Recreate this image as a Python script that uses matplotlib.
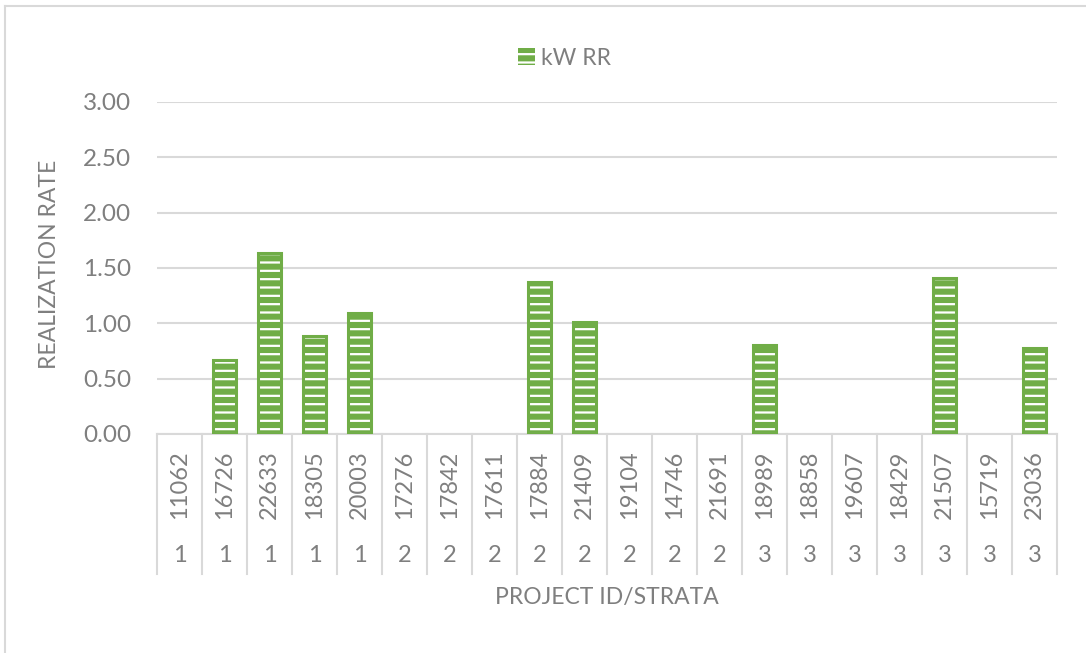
import numpy as np
import matplotlib.pyplot as plt
from matplotlib.lines import Line2D
from matplotlib.transforms import blended_transform_factory

# kW realization rate per project
project_ids = ['11062', '16726', '22633', '18305', '20003', '17276', '17842',
               '17611', '17884', '21409', '19104', '14746', '21691', '18989',
               '18858', '19607', '18429', '21507', '15719', '23036']
strata = ['1', '1', '1', '1', '1', '2', '2', '2', '2', '2', '2', '2', '2',
          '3', '3', '3', '3', '3', '3', '3']
kw_rr = [0.0, 0.67, 1.64, 0.89, 1.09, 0.0, 0.0, 0.0, 1.37, 1.01,
         0.0, 0.0, 0.0, 0.80, 0.0, 0.0, 0.0, 1.41, 0.0, 0.78]
yticks = [0.0, 0.5, 1.0, 1.5, 2.0, 2.5, 3.0]

green = '#70ad47'
txt = '#7f7f7f'
grid = '#d9d9d9'

plt.rcParams['font.family'] = ['Lato', 'DejaVu Sans']
plt.rcParams['hatch.linewidth'] = 1.6
plt.rcParams['hatch.color'] = 'white'

fig = plt.figure(figsize=(10.86, 6.53), dpi=100)
ax = fig.add_axes([157/1086, 1-434/653, 900/1086, 332/653])

x = np.arange(len(project_ids))
vals = np.array(kw_rr)
nz = vals > 0
# white horizontal stripes + green outline, like the Excel pattern fill
bars = ax.bar(x[nz], vals[nz], width=0.53, color=green, edgecolor='white',
              hatch='--', linewidth=0, zorder=2, label='kW RR')
ax.bar(x[nz], vals[nz], width=0.53, fill=False, edgecolor=green,
       linewidth=2.2, zorder=3)

ax.set_xlim(-0.5, len(x) - 0.5)
ax.set_ylim(0, 3)
ax.set_yticks(yticks)
ax.set_yticklabels([f'{v:.2f}' for v in yticks])
ax.yaxis.grid(True, color=grid, linewidth=1.5, zorder=0)
ax.set_axisbelow(True)
for s in ['top', 'right', 'left']:
    ax.spines[s].set_visible(False)
ax.spines['bottom'].set_color(grid)
ax.spines['bottom'].set_linewidth(1.5)

ax.set_xticks(x)
ax.set_xticklabels(project_ids, rotation=90, va='center', ha='center')
ax.tick_params(axis='x', length=0, pad=36.7, labelsize=17, labelcolor=txt)
ax.tick_params(axis='y', length=0, pad=18.5, labelsize=17.5, labelcolor=txt)

# strata row and category separators under the axis
trans = blended_transform_factory(ax.transData, ax.transAxes)
for i, s in enumerate(strata):
    ax.text(i, -0.3645, s, transform=trans, ha='center', va='center',
            fontsize=17, color=txt)
for b in np.arange(len(x) + 1) - 0.5:
    ax.plot([b, b], [0, -0.4217], transform=trans, color=grid, lw=1.5,
            clip_on=False)

ax.set_ylabel('REALIZATION RATE', fontsize=16.5, color=txt, va='center')
ax.yaxis.set_label_coords(-107/900, 0.51)
ax.set_xlabel('PROJECT ID/STRATA', fontsize=16.5, color=txt, va='center')
ax.xaxis.set_label_coords(0.5, -0.491)

fig.legend(handles=[bars], labels=['kW RR'], loc='center',
           bbox_to_anchor=(0.52, 0.911), frameon=False, fontsize=16.5,
           labelcolor=txt, handlelength=0.75, handleheight=0.75,
           handletextpad=0.25)

# chart area border (left and top edges are what shows in the crop)
fx, fy = 5/1086, 1 - 6/653
fig.add_artist(Line2D([fx, fx], [0, fy], transform=fig.transFigure,
                      color=grid, lw=1.5))
fig.add_artist(Line2D([fx, 1], [fy, fy], transform=fig.transFigure,
                      color=grid, lw=1.5))

fig.savefig('out.png', dpi=100)
